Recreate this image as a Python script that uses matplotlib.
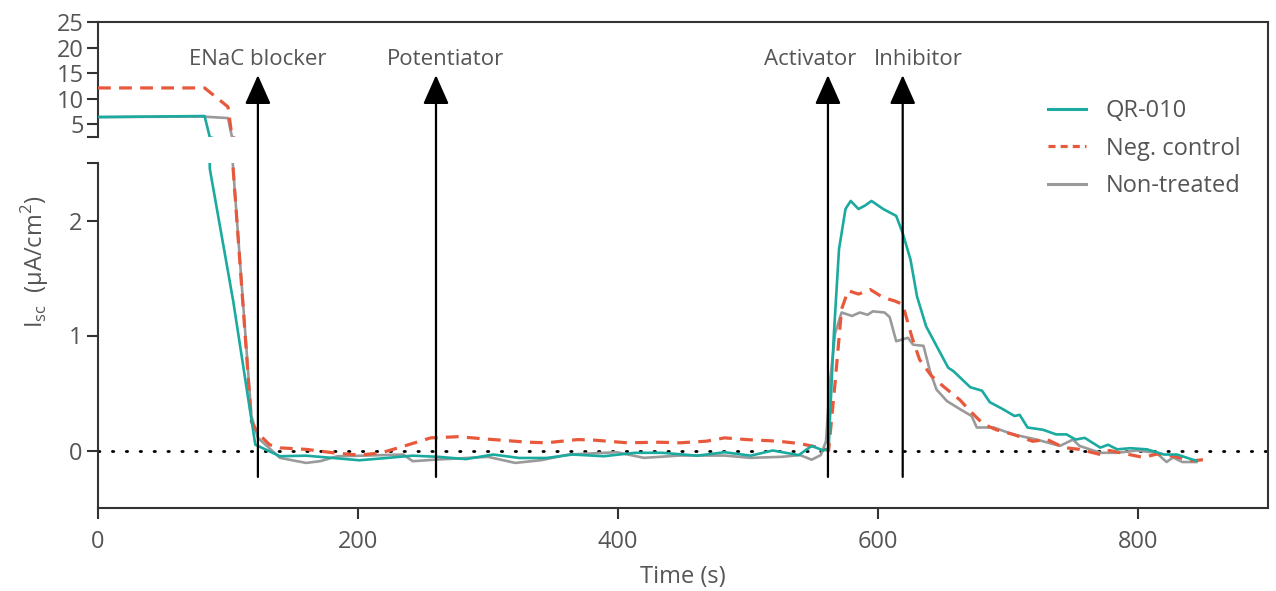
import matplotlib
matplotlib.use("Agg")
import matplotlib.pyplot as plt
from matplotlib.lines import Line2D

# ---- data ----
qr_t = [0, 82, 86, 104, 121, 123, 140, 160, 181, 201, 222, 242, 262, 283, 304, 324,
        345, 365, 389, 413, 434, 461, 482, 502, 519, 539, 549, 558, 562, 566, 570, 575,
        579, 585, 590, 595, 604, 614, 619, 625, 630, 637, 645, 654, 658, 671, 680, 686,
        696, 705, 709, 715, 727, 737, 745, 752, 759, 771, 777, 784, 794, 807, 820, 830, 845]
qr_v = [6.4, 6.6, 2.45, 1.3, 0.05, 0.04, -0.05, -0.045, -0.065, -0.085, -0.065, -0.045,
        -0.055, -0.075, -0.035, -0.065, -0.065, -0.035, -0.05, -0.02, -0.02, -0.045, -0.015,
        -0.045, 0.0, -0.04, 0.04, 0.0, 0.02, 1.0, 1.75, 2.10, 2.17, 2.10, 2.13, 2.17, 2.10,
        2.04, 1.89, 1.66, 1.34, 1.08, 0.91, 0.72, 0.69, 0.55, 0.52, 0.42, 0.36, 0.30, 0.31,
        0.20, 0.18, 0.14, 0.14, 0.095, 0.11, 0.025, 0.05, 0.01, 0.02, 0.01, -0.035, -0.035, -0.09]

neg_t = [0, 82, 100, 103, 118, 123, 132, 140, 160, 181, 201, 218, 235, 256, 277, 304, 331,
         345, 369, 382, 407, 431, 448, 468, 482, 499, 523, 540, 553, 562, 567, 572, 577, 585,
         594, 604, 613, 619, 626, 632, 641, 650, 663, 672, 681, 691, 704, 719, 730, 743, 755,
         771, 778, 791, 804, 815, 827, 842, 850]
neg_v = [12.1, 12.1, 8.4, 2.6, 0.25, 0.15, 0.05, 0.023, 0.01, -0.02, -0.04, -0.02, 0.037,
         0.11, 0.12, 0.095, 0.072, 0.067, 0.095, 0.09, 0.067, 0.072, 0.067, 0.081, 0.11, 0.095,
         0.081, 0.06, 0.03, 0.0, 0.59, 1.23, 1.39, 1.36, 1.40, 1.33, 1.30, 1.27, 0.99, 0.79,
         0.65, 0.56, 0.44, 0.33, 0.23, 0.18, 0.14, 0.08, 0.096, 0.025, 0.01, -0.035, 0.0,
         -0.03, -0.06, -0.03, -0.05, -0.09, -0.08]

non_t = [0, 80, 100, 103, 118, 123, 140, 160, 171, 184, 207, 235, 242, 262, 300, 321, 341,
         362, 399, 420, 447, 482, 502, 526, 540, 549, 556, 560, 563, 567, 572, 580, 586, 592,
         596, 605, 609, 614, 623, 627, 635, 640, 645, 653, 663, 672, 676, 689, 704, 722, 740,
         750, 755, 771, 784, 799, 814, 822, 827, 834, 845]
non_v = [6.4, 6.5, 6.2, 2.6, 0.3, 0.11, -0.064, -0.108, -0.093, -0.05, -0.044, -0.035,
         -0.093, -0.078, -0.055, -0.108, -0.084, -0.035, -0.015, -0.064, -0.044, -0.044,
         -0.064, -0.055, -0.04, -0.08, -0.04, 0.08, 0.59, 1.02, 1.2, 1.17, 1.2, 1.18, 1.21,
         1.2, 1.16, 0.95, 0.98, 0.92, 0.91, 0.69, 0.53, 0.43, 0.36, 0.30, 0.20, 0.20, 0.14,
         0.095, 0.04, 0.095, 0.04, -0.02, -0.02, 0.0, -0.02, -0.1, -0.06, -0.1, -0.1]

events = ["ENaC blocker", "Potentiator", "Activator", "Inhibitor"]
event_t = [123, 260, 561.5, 619]
label_x = [123, 267, 548, 631]

top_ticks = [5, 10, 15, 20, 25]
bot_ticks = [0, 1, 2]
x_ticks = [0, 200, 400, 600, 800]

# ---- style ----
plt.rcParams['font.family'] = ['Open Sans', 'DejaVu Sans']
plt.rcParams['mathtext.fontset'] = 'custom'
plt.rcParams['mathtext.rm'] = 'Open Sans'
txt = '#555555'
spine_c = '#333333'
teal = '#1aaaa0'
red = '#e8593c'
gray = '#9a9a9a'
fs = 17

fig = plt.figure(figsize=(12.76, 5.91), dpi=100)
W, H = 1276.0, 591.0
xl, xr = 98 / W, 1268 / W
ax_top = fig.add_axes([xl, 1 - 137 / H, xr - xl, (137 - 22) / H])
ax_bot = fig.add_axes([xl, 1 - 508 / H, xr - xl, (508 - 163) / H], sharex=ax_top)

for ax in (ax_top, ax_bot):
    ax.plot(non_t, non_v, color=gray, lw=1.9, zorder=2)
    ax.plot(neg_t, neg_v, color=red, lw=2.3, dashes=(4, 2.6), zorder=3)
    ax.plot(qr_t, qr_v, color=teal, lw=1.9, zorder=4)
    for s in ax.spines.values():
        s.set_color(spine_c)
        s.set_linewidth(1.5)
    ax.tick_params(axis='both', colors=spine_c, labelcolor=txt, labelsize=fs,
                   width=1.5, length=8)

ax_top.set_xlim(0, 900)
ax_top.set_ylim(2.5, 25)
ax_top.set_yticks([2.5] + top_ticks)
ax_top.set_yticklabels([''] + [str(v) for v in top_ticks])
ax_top.spines['bottom'].set_visible(False)
ax_top.spines['right'].set_visible(False)
ax_top.tick_params(axis='x', bottom=False, labelbottom=False)
ax_top.tick_params(axis='y', pad=2)

ax_bot.set_ylim(-0.5, 2.5)
ax_bot.set_yticks(bot_ticks + [2.5])
ax_bot.set_yticklabels([str(v) for v in bot_ticks] + [''])
ax_bot.set_xticks(x_ticks)
ax_bot.tick_params(axis='x', pad=8)
ax_bot.spines['top'].set_visible(False)
ax_bot.spines['right'].set_visible(False)
ax_bot.axhline(0, color='black', lw=2, ls=(0, (0.5, 4.5)), dash_capstyle='round', zorder=1)

# continuous right frame line across the break
fig.add_artist(Line2D([xr, xr], [1 - 508 / H, 1 - 22 / H], transform=fig.transFigure,
                      color=spine_c, lw=1.5))

# event arrows
for name, t, lx in zip(events, event_t, label_x):
    ax_bot.annotate('', xy=(t, 14.6), xycoords=ax_top.transData,
                    xytext=(t, -0.23), textcoords=ax_bot.transData,
                    arrowprops=dict(arrowstyle='-|>,head_length=18,head_width=8',
                                    mutation_scale=1, color='black', lw=1.6,
                                    shrinkA=0, shrinkB=0), zorder=6)
    ax_top.text(lx, 17.6, name, ha='center', va='center', color=txt, fontsize=fs - 1)

ax_bot.set_xlabel('Time (s)', color=txt, fontsize=fs, labelpad=8)
fig.text(35 / W, 1 - 262 / H, r'I$_\mathrm{sc}$  (µA/cm$^\mathrm{2}$)', rotation=90,
         ha='center', va='center', color=txt, fontsize=fs)

handles = [Line2D([], [], color=teal, lw=2.2),
           Line2D([], [], color=red, lw=2.3, dashes=(2.2, 1.6)),
           Line2D([], [], color=gray, lw=2.2)]
fig.legend(handles, ['QR-010', 'Neg. control', 'Non-treated'], loc='upper left',
           bbox_to_anchor=(1048 / W, 1 - 99 / H), frameon=False, fontsize=fs,
           labelcolor=txt, handlelength=1.6, handletextpad=0.85, labelspacing=0.58,
           borderpad=0, borderaxespad=0)

fig.savefig('out.png', dpi=100)
